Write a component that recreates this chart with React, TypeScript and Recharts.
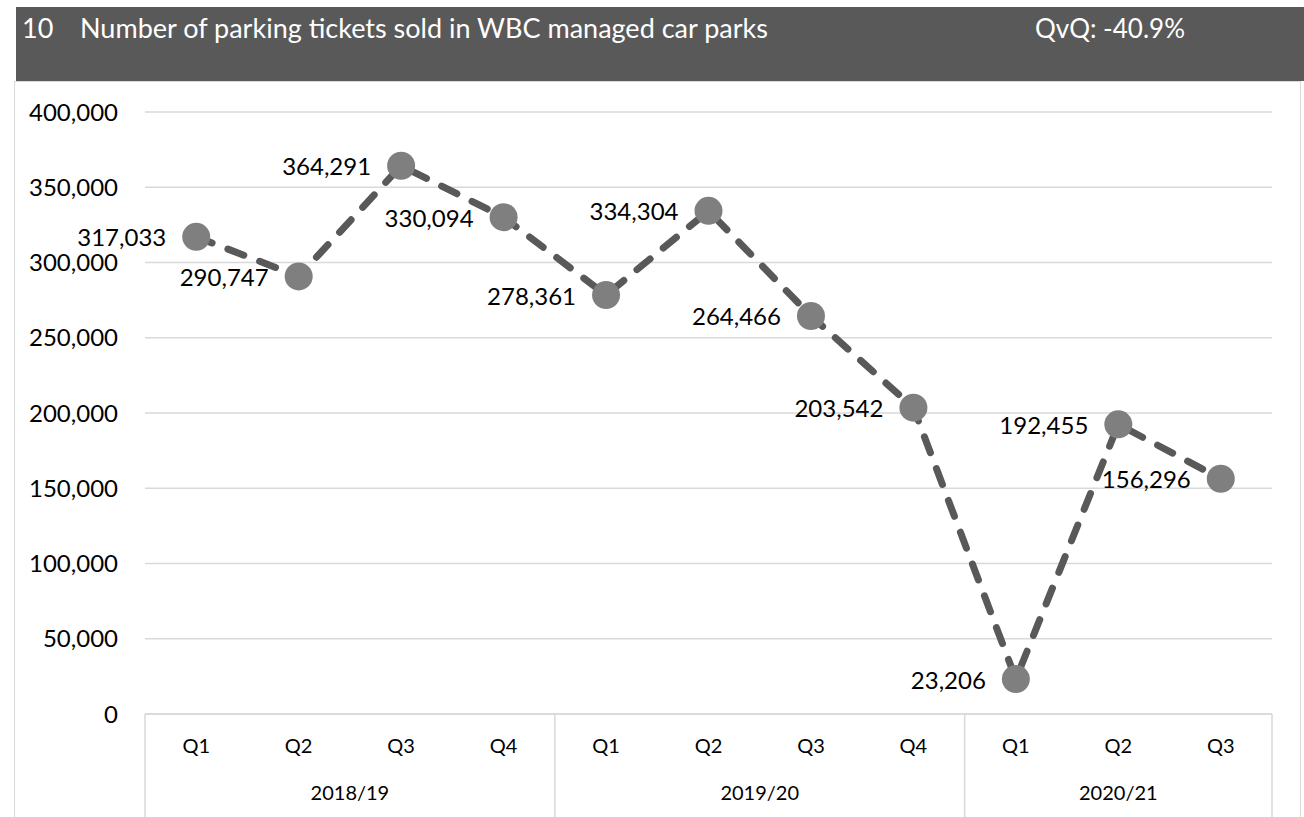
import React from "react";
import {
  LineChart,
  Line,
  XAxis,
  YAxis,
  CartesianGrid,
  LabelList,
} from "recharts";

// quarterly ticket sales
const quarters = ["Q1", "Q2", "Q3", "Q4", "Q1", "Q2", "Q3", "Q4", "Q1", "Q2", "Q3"];
const tickets = [317033, 290747, 364291, 330094, 278361, 334304, 264466, 203542, 23206, 192455, 156296];
const years = ["2018/19", "2019/20", "2020/21"];
const quartersPerYear = [4, 4, 3];
const yTicks = [0, 50000, 100000, 150000, 200000, 250000, 300000, 350000, 400000];

const chartTitle = "Number of parking tickets sold in WBC managed car parks";
const chartNumber = "10";
const qvq = "QvQ: -40.9%";

const FONT = "Lato, 'Open Sans', sans-serif";
const STEP = 102.45; // distance between two categories on the x axis

const data = quarters.map((q, i) => ({ q, tickets: tickets[i] }));

// index where each year group starts
const groupStarts: number[] = [];
quartersPerYear.reduce((acc, n) => {
  groupStarts.push(acc);
  return acc + n;
}, 0);

const fmt = (v: number) => v.toLocaleString("en-US");

const QuarterTick = (props: any) => {
  const { x, y, payload, index } = props;
  const i = index ?? payload.index;
  const g = groupStarts.indexOf(i);
  return (
    <g>
      <text
        x={x}
        y={y + 31}
        textAnchor="middle"
        dominantBaseline="central"
        fontSize={20}
        fontFamily={FONT}
        fill="#000"
      >
        {payload.value}
      </text>
      {g >= 0 && (
        <>
          <line x1={x - STEP / 2} x2={x - STEP / 2} y1={y} y2={y + 110} stroke="#d9d9d9" strokeWidth={1.5} />
          <text
            x={x + ((quartersPerYear[g] - 1) * STEP) / 2}
            y={y + 78}
            textAnchor="middle"
            dominantBaseline="central"
            fontSize={20}
            fontFamily={FONT}
            fill="#000"
          >
            {years[g]}
          </text>
        </>
      )}
      {i === quarters.length - 1 && (
        <line x1={x + STEP / 2} x2={x + STEP / 2} y1={y} y2={y + 110} stroke="#d9d9d9" strokeWidth={1.5} />
      )}
    </g>
  );
};

const ValueLabel = (props: any) => {
  const { x, y, value } = props;
  return (
    <text
      x={x - 30}
      y={y}
      textAnchor="end"
      dominantBaseline="central"
      fontSize={24}
      fontFamily={FONT}
      fill="#000"
    >
      {fmt(value)}
    </text>
  );
};

export default function App() {
  return (
    <div
      style={{
        position: "absolute",
        left: 0,
        top: 0,
        width: 1304,
        height: 817,
        overflow: "hidden",
        background: "#fff",
        fontFamily: FONT,
      }}
    >
      {/* outer frame of the chart */}
      <div
        style={{
          position: "absolute",
          left: 14,
          top: 81,
          width: 1285,
          height: 760,
          border: "1.5px solid #d9d9d9",
        }}
      />
      {/* dark title band */}
      <div
        style={{
          position: "absolute",
          left: 16,
          top: 7,
          width: 1288,
          height: 74,
          background: "#595959",
          color: "#fff",
          fontSize: 27,
          lineHeight: "32px",
          whiteSpace: "nowrap",
        }}
      >
        <span style={{ position: "absolute", left: 6, top: 5 }}>{chartNumber}</span>
        <span style={{ position: "absolute", left: 64, top: 5 }}>{chartTitle}</span>
        <span style={{ position: "absolute", left: 1019, top: 5, fontSize: 26 }}>{qvq}</span>
      </div>

      <div style={{ position: "absolute", left: 0, top: 0 }}>
        <LineChart
          width={1304}
          height={817}
          data={data}
          margin={{ top: 112, right: 32, bottom: 73, left: 45 }}
        >
          <CartesianGrid vertical={false} stroke="#d9d9d9" strokeWidth={1.5} />
          <XAxis
            dataKey="q"
            height={30}
            padding={{ left: STEP / 2, right: STEP / 2 }}
            axisLine={{ stroke: "#d9d9d9", strokeWidth: 1.5 }}
            tickLine={false}
            tickSize={0}
            tickMargin={0}
            interval={0}
            tick={<QuarterTick />}
          />
          <YAxis
            width={100}
            domain={[0, 400000]}
            ticks={yTicks}
            axisLine={false}
            tickLine={false}
            tickSize={0}
            tickMargin={27}
            tickFormatter={fmt}
            tick={{ fontSize: 24, fontFamily: FONT, fill: "#000" }}
          />
          <Line
            type="linear"
            dataKey="tickets"
            stroke="#595959"
            strokeWidth={7}
            strokeDasharray="17 17"
            strokeLinecap="round"
            dot={{ r: 14, fill: "#7f7f7f", stroke: "none" }}
            activeDot={false}
            isAnimationActive={false}
          >
            <LabelList dataKey="tickets" content={<ValueLabel />} />
          </Line>
        </LineChart>
      </div>
    </div>
  );
}
